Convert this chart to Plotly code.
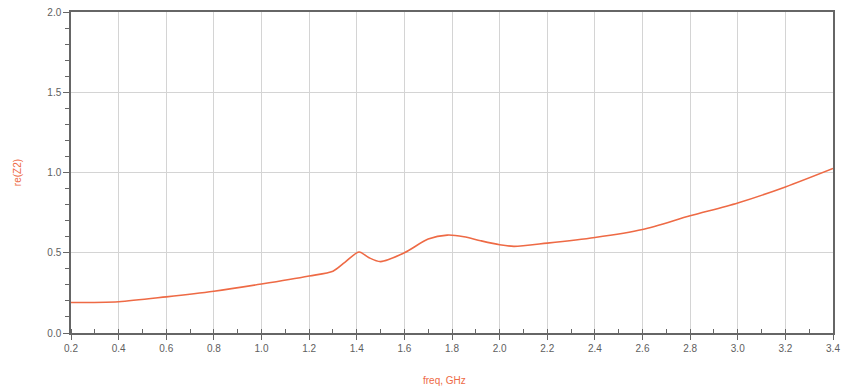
import plotly.graph_objects as go

# Real part of Z2 versus frequency
freq_ghz = [0.2, 0.4, 0.6, 0.8, 1.0, 1.2, 1.3, 1.35, 1.41, 1.45, 1.5, 1.6, 1.7, 1.78,
            1.85, 1.92, 2.0, 2.06, 2.2, 2.4, 2.6, 2.8, 3.0, 3.2, 3.4]
re_z2 = [0.19, 0.195, 0.225, 0.26, 0.305, 0.355, 0.385, 0.44, 0.505, 0.47, 0.445, 0.50,
         0.585, 0.61, 0.60, 0.575, 0.55, 0.54, 0.56, 0.595, 0.645, 0.73, 0.81, 0.91, 1.025]

x_ticks = [0.2, 0.4, 0.6, 0.8, 1.0, 1.2, 1.4, 1.6, 1.8, 2.0, 2.2, 2.4, 2.6, 2.8, 3.0, 3.2, 3.4]
y_ticks = [0.0, 0.5, 1.0, 1.5, 2.0]

line_color = "#EE6A45"
axis_color = "#666666"
grid_color = "#D4D4D4"
font_family = "Liberation Sans, Arial, sans-serif"
label_font = dict(family=font_family, size=10, color="#5E5E5E")
title_font = dict(family=font_family, size=10, color=line_color)

fig = go.Figure()
fig.add_trace(go.Scatter(
    x=freq_ghz, y=re_z2, mode="lines",
    line=dict(color=line_color, width=1.6, shape="spline", smoothing=0.8),
    showlegend=False,
))

fig.update_xaxes(
    range=[0.2, 3.4], tickvals=x_ticks, ticktext=[f"{v:.1f}" for v in x_ticks],
    showgrid=True, gridcolor=grid_color, gridwidth=1,
    showline=True, linecolor=axis_color, linewidth=1.5, mirror=True,
    ticks="outside", ticklen=5, tickcolor=axis_color, tickwidth=1,
    minor=dict(dtick=0.1, tick0=0.2, ticks="inside", ticklen=4, tickcolor=axis_color, showgrid=False),
    tickfont=label_font, zeroline=False, automargin=False,
)
fig.update_yaxes(
    range=[0, 2.0], tickvals=y_ticks, ticktext=[f"{v:.1f}" for v in y_ticks],
    showgrid=True, gridcolor=grid_color, gridwidth=1,
    showline=True, linecolor=axis_color, linewidth=1.5, mirror=True,
    ticks="outside", ticklen=6, tickcolor=axis_color, tickwidth=1,
    minor=dict(dtick=0.1, ticks="outside", ticklen=4, tickcolor=axis_color, showgrid=False),
    tickfont=label_font, zeroline=False, automargin=False,
    title=dict(text="re(Z2)", font=title_font, standoff=24),
)

# x-axis title placed below the tick labels
fig.add_annotation(
    text="freq, GHz", xref="paper", yref="paper", x=0.49, y=0,
    yshift=-47, showarrow=False, font=title_font, xanchor="center", yanchor="middle",
)

fig.update_layout(
    width=844, height=388,
    margin=dict(l=71, r=11, t=12, b=55),
    paper_bgcolor="white", plot_bgcolor="white",
)

fig.write_html("out.html")
